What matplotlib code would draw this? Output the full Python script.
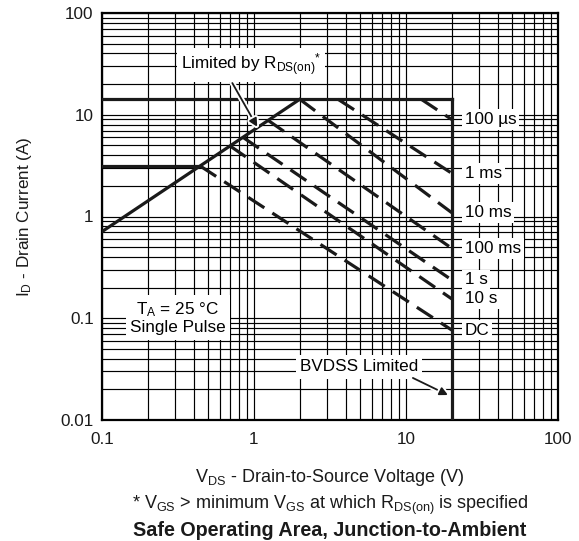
import matplotlib
matplotlib.use('Agg')
import matplotlib.pyplot as plt
import matplotlib.patheffects as pe

# Safe operating area data
bvdss = 20.0            # V, drain-source breakdown limit
id_pulse = 14.2         # A, pulsed drain current limit
id_cont = 3.14          # A, continuous drain current limit
rds_v = [0.1, 2.0]      # R_DS(on) limit line
rds_i = [0.71, 14.2]

soa_labels = ['100 µs', '1 ms', '10 ms', '100 ms', '1 s', '10 s', 'DC']
soa_v_start = [12.6, 3.57, 2.0, 1.24, 0.846, 0.695, 0.442]
soa_i_start = [14.2, 14.2, 14.2, 8.8, 6.0, 4.94, 3.14]
soa_i_end = [8.98, 2.66, 1.09, 0.487, 0.238, 0.155, 0.0766]

xticks = [0.1, 1, 10, 100]
xtick_labels = ['0.1', '1', '10', '100']
yticks = [0.01, 0.1, 1, 10, 100]
ytick_labels = ['0.01', '0.1', '1', '10', '100']

plt.rcParams['font.family'] = ['Liberation Sans', 'DejaVu Sans']
plt.rcParams['mathtext.fontset'] = 'custom'
plt.rcParams['mathtext.rm'] = 'Liberation Sans'
plt.rcParams['mathtext.it'] = 'Liberation Sans:italic'
plt.rcParams['mathtext.bf'] = 'Liberation Sans:bold'

fs = 12.3
ink = '#1a1a1a'
W, H = 579, 541
fig = plt.figure(figsize=(W / 100, H / 100), dpi=100)
ax = fig.add_axes([102 / W, 1 - 420 / H, 456 / W, 407 / H])
ax.set_xscale('log')
ax.set_yscale('log')
ax.set_xlim(0.1, 100)
ax.set_ylim(0.01, 100)

# grid
ax.grid(True, which='both', color='black', lw=0.85)
ax.set_axisbelow(True)
for s in ax.spines.values():
    s.set_linewidth(1.6)
ax.set_xticks(xticks, labels=xtick_labels)
ax.set_yticks(yticks, labels=ytick_labels)
ax.tick_params(which='both', length=0, labelsize=fs, colors=ink)
ax.tick_params(axis='x', pad=9)
ax.tick_params(axis='y', pad=6)

# limit lines
lw = 2.3
ax.plot([0.1, bvdss], [id_pulse, id_pulse], color=ink, lw=lw, zorder=3)
ax.plot([0.1, soa_v_start[-1]], [id_cont, id_cont], color=ink, lw=lw, zorder=3)
ax.plot([bvdss, bvdss], [0.01, id_pulse], color=ink, lw=lw, zorder=3)
ax.plot(rds_v, rds_i, color=ink, lw=lw, zorder=3)

# pulse-width lines
for lab, vs, i0, i1 in zip(soa_labels, soa_v_start, soa_i_start, soa_i_end):
    ax.plot([vs, bvdss], [i0, i1], color=ink, lw=lw,
            dashes=(6, 3), dash_capstyle='butt', zorder=3)
    ax.text(24.4, i1, lab, fontsize=fs, ha='left', va='center', zorder=5,
            bbox=dict(facecolor='white', edgecolor='none', pad=2))

box = dict(facecolor='white', edgecolor='none', pad=3)
outline = [pe.withStroke(linewidth=4, foreground='white')]

ax.text(0.955, 30.8, r'Limited by R$_{\mathrm{DS(on)}}$$^{*}$', fontsize=fs,
        ha='center', va='center', zorder=5, bbox=box)
ax.annotate('', xy=(1.05, 7.6), xytext=(0.72, 20.5), zorder=6,
            arrowprops=dict(arrowstyle='-|>', color=ink, lw=1.3,
                            mutation_scale=12, shrinkA=0, shrinkB=0,
                            path_effects=outline))

ax.text(0.316, 0.1006, 'T$_{\\mathrm{A}}$ = 25 °C\nSingle Pulse', fontsize=fs,
        ha='center', va='center', multialignment='center', linespacing=1.1,
        zorder=5, bbox=box)

ax.text(4.91, 0.0332, 'BVDSS Limited', fontsize=fs, ha='center', va='center',
        zorder=5, bbox=box)
ax.annotate('', xy=(18.9, 0.0176), xytext=(11.1, 0.0259), zorder=6,
            arrowprops=dict(arrowstyle='-|>', color=ink, lw=1.3,
                            mutation_scale=12, shrinkA=0, shrinkB=0,
                            path_effects=outline))

# labels
ax.set_ylabel(r'I$_{\mathrm{D}}$ - Drain Current (A)', fontsize=fs, color=ink)
ax.yaxis.set_label_coords(-0.15, 0.5)
ax.set_xlabel(r'V$_{\mathrm{DS}}$ - Drain-to-Source Voltage (V)', fontsize=13,
              color=ink)
ax.xaxis.label.set_va('center')
ax.xaxis.set_label_coords(0.5, -(477 - 420) / 407)

fig.text(330 / W, 1 - 505 / H,
         r'* V$_{\mathrm{GS}}$ > minimum V$_{\mathrm{GS}}$ at which R$_{\mathrm{DS(on)}}$ is specified',
         fontsize=13, ha='center', va='center', color=ink)
fig.text(330 / W, 1 - 531 / H, 'Safe Operating Area, Junction-to-Ambient',
         fontsize=14.2, fontweight='bold', ha='center', va='center', color=ink)

fig.savefig('out.png', dpi=100)
